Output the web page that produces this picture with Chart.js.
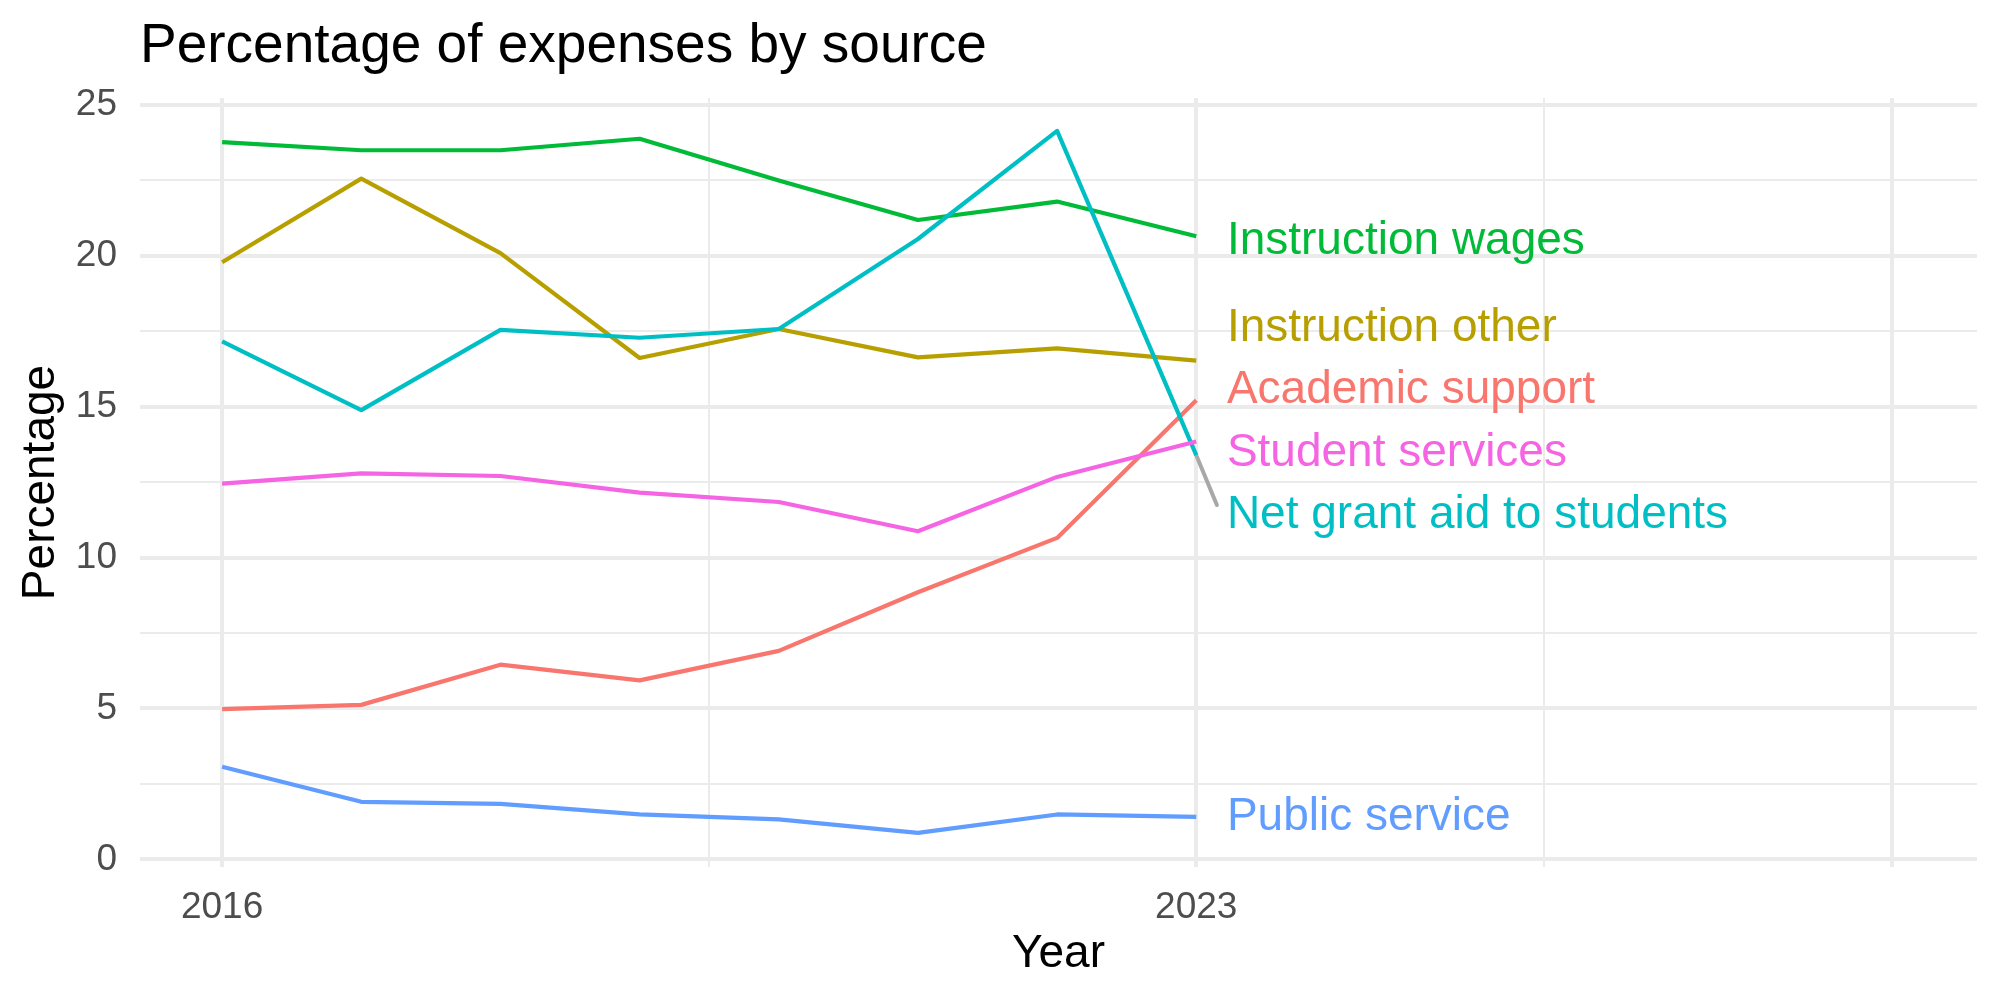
<!DOCTYPE html>
<html><head><meta charset="utf-8">
<script src="https://cdn.jsdelivr.net/npm/chart.js@4"></script>
<style>html,body{margin:0;padding:0;background:#fff}#wrap{width:2000px;height:1000px}</style>
</head><body><div id="wrap"><canvas id="c" width="2000" height="1000"></canvas></div>
<script>
const years = [2016, 2017, 2018, 2019, 2020, 2021, 2022, 2023];
const seriesNames = ["Academic support", "Instruction other", "Instruction wages", "Net grant aid to students", "Public service", "Student services"];
const academicSupport  = [4.98, 5.12, 6.45, 5.93, 6.91, 8.85, 10.65, 15.21];
const instructionOther = [19.78, 22.55, 20.08, 16.61, 17.57, 16.63, 16.93, 16.52];
const instructionWages = [23.76, 23.49, 23.49, 23.87, 22.49, 21.18, 21.79, 20.64];
const netGrantAid      = [17.16, 14.88, 17.54, 17.28, 17.57, 20.55, 24.13, 13.39];
const publicService    = [3.07, 1.91, 1.84, 1.49, 1.33, 0.88, 1.49, 1.41];
const studentServices  = [12.45, 12.79, 12.70, 12.15, 11.84, 10.87, 12.67, 13.84];
const seriesColors = ["#F8766D", "#B79F00", "#00BA38", "#00BFC4", "#619CFF", "#F564E3"];
// end-label placement (data units): x year and vertical centre value for each label
const labelYear = 2023.22;
const labelValues = [15.58, 17.65, 20.52, 11.44, 1.43, 13.51];
const xTickLabelled = [2016, 2023];
const xGridMajor = [2016, 2023, 2028];
const xGridMinor = [2019.5, 2025.5];
const yTickLabelled = [0, 5, 10, 15, 20, 25];
const yGridMinor = [2.5, 7.5, 12.5, 17.5, 22.5];

const FONT = '"Liberation Sans", Arial, Helvetica, sans-serif';
Chart.defaults.font.family = FONT;

const allSeries = [academicSupport, instructionOther, instructionWages, netGrantAid, publicService, studentServices];
const datasets = seriesNames.map((name, i) => ({
  label: name,
  data: years.map((yr, j) => ({ x: yr, y: allSeries[i][j] })),
  borderColor: seriesColors[i],
  backgroundColor: seriesColors[i],
  borderWidth: 4.2,
  pointRadius: 0,
  pointHoverRadius: 0,
  tension: 0,
  fill: false,
  borderJoinStyle: 'round',
  order: seriesNames.length - i
}));

const endLabels = {
  id: 'endLabels',
  beforeDatasetsDraw(chart) {
    const { ctx, scales: { x, y } } = chart;
    const i = seriesNames.indexOf("Net grant aid to students");
    const last = years.length - 1;
    const x0 = x.getPixelForValue(years[last]);
    const y0 = y.getPixelForValue(allSeries[i][last]);
    const x1 = x.getPixelForValue(labelYear) - 10;
    const y1 = y.getPixelForValue(labelValues[i]) - 9;
    ctx.save();
    ctx.strokeStyle = '#a8a8a8';
    ctx.lineWidth = 4;
    ctx.lineCap = 'round';
    ctx.beginPath(); ctx.moveTo(x0, y0); ctx.lineTo(x1, y1); ctx.stroke();
    ctx.restore();
  },
  afterDraw(chart) {
    const { ctx, scales: { x, y }, chartArea } = chart;
    ctx.save();
    ctx.font = '46px ' + FONT;
    ctx.textAlign = 'left';
    ctx.textBaseline = 'alphabetic';
    seriesNames.forEach((name, i) => {
      ctx.fillStyle = seriesColors[i];
      ctx.fillText(name, x.getPixelForValue(labelYear), y.getPixelForValue(labelValues[i]) + 14);
    });
    ctx.fillStyle = '#000';
    ctx.font = '55px ' + FONT;
    ctx.fillText('Percentage of expenses by source', chartArea.left, 62);
    ctx.restore();
  }
};

new Chart(document.getElementById('c'), {
  type: 'line',
  data: { datasets },
  options: {
    responsive: false,
    animation: false,
    devicePixelRatio: 1,
    layout: { padding: { top: 98, right: 23, left: 0, bottom: 0 } },
    plugins: { legend: { display: false }, tooltip: { enabled: false }, title: { display: false } },
    scales: {
      x: {
        type: 'linear', min: 2015.41, max: 2028.61,
        afterBuildTicks: s => { s.ticks = [...xGridMajor, ...xGridMinor].sort((a, b) => a - b).map(v => ({ value: v })); },
        ticks: {
          autoSkip: false, maxRotation: 0, padding: 19, color: '#4d4d4d', font: { size: 37 },
          callback: v => xTickLabelled.includes(v) ? String(v) : ''
        },
        grid: { drawTicks: false, color: '#ebebeb', lineWidth: c => xGridMajor.includes(c.tick.value) ? 4 : 2 },
        border: { display: false },
        title: { display: true, text: 'Year', color: '#000', font: { size: 46 }, padding: { top: 0, bottom: 18 } },
        afterFit: s => { s.height = 133; }
      },
      y: {
        type: 'linear', min: -0.25, max: 25.22,
        afterBuildTicks: s => { s.ticks = [...yTickLabelled, ...yGridMinor].sort((a, b) => a - b).map(v => ({ value: v })); },
        ticks: {
          autoSkip: false, padding: 23, color: '#4d4d4d', font: { size: 37 },
          callback: v => yTickLabelled.includes(v) ? String(v) : ''
        },
        grid: { drawTicks: false, color: '#ebebeb', lineWidth: c => yTickLabelled.includes(c.tick.value) ? 4 : 2 },
        border: { display: false },
        title: { display: true, text: 'Percentage', color: '#000', font: { size: 46 }, padding: { top: 14, bottom: 0 } },
        afterFit: s => { s.width = 140; }
      }
    }
  },
  plugins: [endLabels]
});
</script>
</body></html>
